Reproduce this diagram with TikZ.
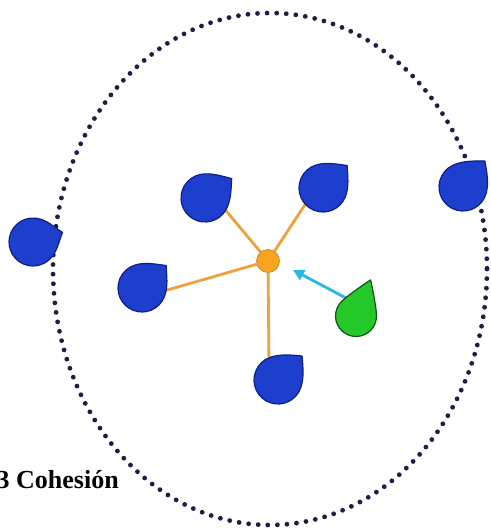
\documentclass[tikz,border=0pt]{standalone}
\usepackage{fontspec}
\setmainfont{Liberation Serif}
\usetikzlibrary{arrows.meta,calc}
\definecolor{dotcolor}{RGB}{27,30,75}
\definecolor{bluefill}{RGB}{30,62,205}
\definecolor{blueline}{RGB}{14,32,140}
\definecolor{greenfill}{RGB}{36,200,40}
\definecolor{greenline}{RGB}{22,80,22}
\definecolor{hubcolor}{RGB}{247,164,30}
\definecolor{linkcolor}{RGB}{240,160,60}
\definecolor{pushcolor}{RGB}{40,185,225}
\pgfdeclarelayer{background}
\pgfsetlayers{background,main}
% drop: name, x, y, radius, tip distance, tip angle, tip half-angle, style
\newcommand{\gota}[8]{%
  \coordinate (#1) at (#2,#3);
  \coordinate (#1-tip) at ($(#1)+(#6:#5)$);
  \coordinate (#1-a) at ($(#1)+({#6+65}:#4)$);
  \coordinate (#1-b) at ($(#1)+({#6-65}:#4)$);
  \path[#8] (#1-tip)
    .. controls ($(#1-tip)+({#6+180-#7}:{0.45*#4})$) and ($(#1-a)+({#6+65-90}:{0.45*#4})$) .. (#1-a)
    arc[start angle={#6+65}, end angle={#6-65+360}, radius=#4]
    .. controls ($(#1-b)+({#6-65+90}:{0.45*#4})$) and ($(#1-tip)+({#6+180+#7}:{0.45*#4})$) .. (#1-tip)
    -- cycle;}

\begin{document}
\begin{tikzpicture}[x=1pt,y=-1pt,
    bluedrop/.style={fill=bluefill,draw=blueline,line width=1.2pt,line join=round},
    greendrop/.style={fill=greenfill,draw=greenline,line width=1.2pt,line join=round},
    link/.style={draw=linkcolor,line width=2.8pt},
    push/.style={draw=pushcolor,line width=2.8pt,-{Triangle[length=11pt,width=11pt]}},
    hub/.style={circle,fill=hubcolor,draw=linkcolor!80!black,line width=0.6pt,minimum size=23pt,inner sep=0pt}]
  \useasboundingbox (0,0) rectangle (490,529);
  % neighbourhood
  \begin{pgfonlayer}{background}
    \draw[dotcolor,line width=4.8pt,line cap=round,dash pattern=on 0pt off 9.6pt]
      (270,269) ellipse [x radius=217, y radius=256];
  \end{pgfonlayer}
  % boids
  \gota{out-l}{33}{242}{24}{31}{-18}{50}{bluedrop}
  \gota{in-ll}{142}{288}{24}{33}{-43}{50}{bluedrop}
  \gota{in-ul}{205}{198}{24}{33}{-36}{50}{bluedrop}
  \gota{in-ur}{323}{188}{24}{33}{-43}{50}{bluedrop}
  \gota{out-r}{463}{187}{24}{34}{-50}{50}{bluedrop}
  \gota{in-b}{278}{380}{24}{34}{-45}{50}{bluedrop}
  \gota{boid}{356}{316}{20.5}{39}{-68}{34}{greendrop}
  % centre of mass
  \node[hub] (centro) at (268,261) {};
  \coordinate (ul-end) at (212,194);
  \coordinate (ur-end) at (310,197);
  \coordinate (ll-end) at (150,295);
  \coordinate (b-end) at (269,366);
  \coordinate (boid-end) at (346,298);
  \coordinate (empuje) at (293,270);
  \begin{pgfonlayer}{background}
    \draw[link] (centro) -- (ul-end);
    \draw[link] (centro) -- (ur-end);
    \draw[link] (centro) -- (ll-end);
    \draw[link] (centro) -- (b-end);
    \draw[push] (boid-end) -- (empuje);
  \end{pgfonlayer}
  \node[anchor=base west,inner sep=0pt,font=\fontsize{26}{30}\selectfont\bfseries] (titulo) at (-3.5,488) {3 Cohesión};
\end{tikzpicture}
\end{document}
